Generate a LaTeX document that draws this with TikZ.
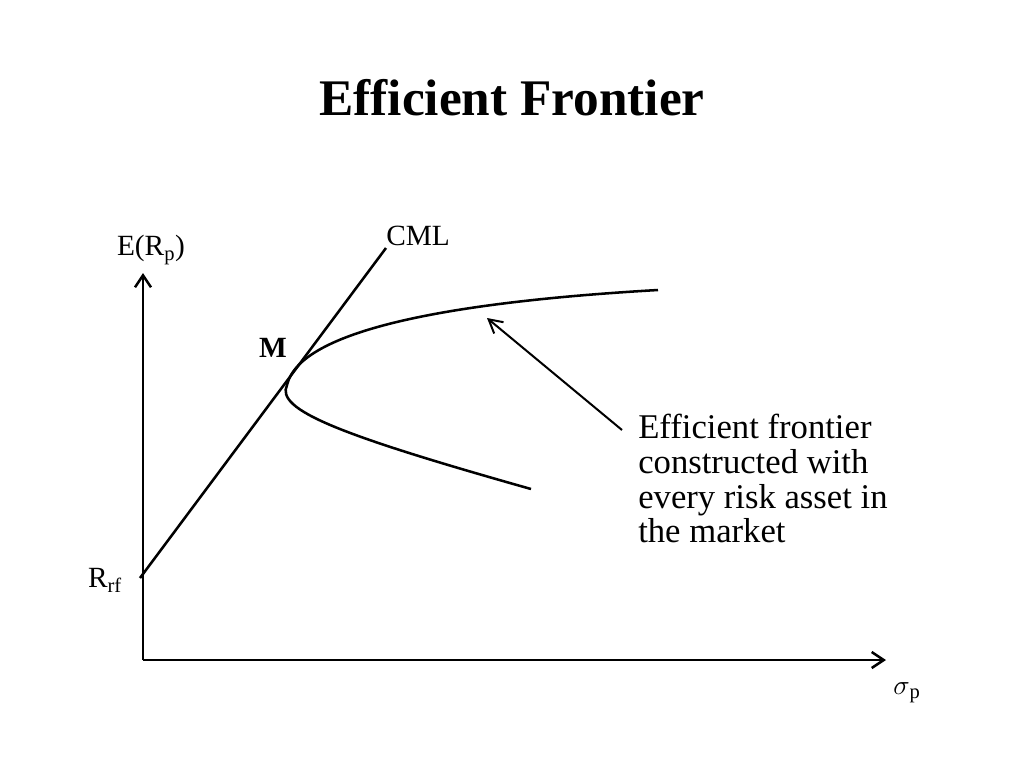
\documentclass[tikz,border=0pt]{standalone}
\usepackage{fontspec}
\setmainfont{Liberation Serif}
\usetikzlibrary{arrows.meta}

\begin{document}
\begin{tikzpicture}[x=0.75pt, y=-0.75pt,
  every node/.style = {inner sep=0pt},
  axis/.style = {line width=1.9pt, -{Straight Barb[length=9pt,width=12pt]}},
  curve/.style = {line width=1.9pt},
  lbl/.style = {font=\fontsize{22}{24}\selectfont}]
  \useasboundingbox (0,0) rectangle (1024,768);

  % title
  \node[font=\bfseries\fontsize{38.5}{42}\selectfont] (title) at (512,98) {Efficient Frontier};

  % axes
  \coordinate (origin) at (143,660);
  \coordinate (ytop) at (143,273);
  \coordinate (xend) at (886,660);
  \draw[axis] (origin) -- (ytop);
  \draw[axis] (origin) -- (xend);
  \node[lbl] (ylabel) at (151,250) {E(R\textsubscript{p})};
  \node[lbl] (xlabel) at (907,693) {$\sigma$\textsubscript{p}};
  \node[lbl] (rf) at (105,580) {R\textsubscript{rf}};

  % capital market line
  \coordinate (rfpt) at (140,578);
  \coordinate (cmlend) at (386,248);
  \draw[curve] (rfpt) -- (cmlend);
  \node[lbl, anchor=west] (cml) at (386,236) {CML};
  \node[font=\bfseries\fontsize{22}{24}\selectfont] (M) at (273,348) {M};

  % frontier
  \coordinate (top) at (658,290);
  \coordinate (vertex) at (287,385);
  \coordinate (bottom) at (531,489);
  \draw[curve] (top) .. controls (450,302) and (300,330) .. (vertex)
    .. controls (275,410) and (340,435) .. (bottom);

  % annotation
  \node[font=\fontsize{26}{26}\selectfont, anchor=north west, align=left] (note) at (638,414)
    {Efficient frontier\\constructed with\\every risk asset in\\the market};
  \coordinate (tail) at (622,430);
  \coordinate (tip) at (487,318);
  \draw[line width=1.5pt, -{Straight Barb[length=10pt,width=11pt]}] (tail) -- (tip);
\end{tikzpicture}
\end{document}
